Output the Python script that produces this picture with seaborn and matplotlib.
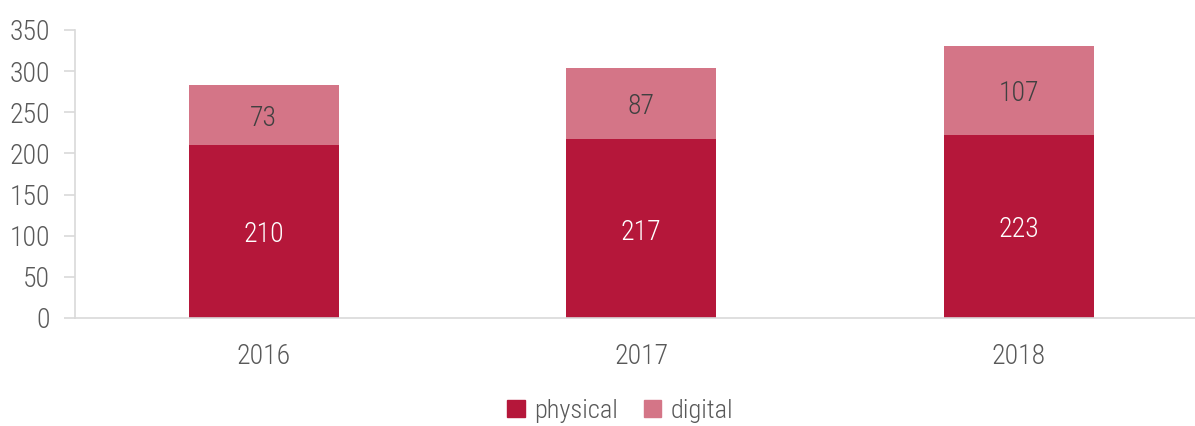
import pandas as pd
import matplotlib
matplotlib.use("Agg")
import matplotlib.pyplot as plt
import seaborn as sns
from matplotlib.patches import Patch
from matplotlib import font_manager

years = ['2016', '2017', '2018']
physical = [210, 217, 223]
digital = [73, 87, 107]

c_phys = '#B5173A'
c_dig = '#D47587'
grey = '#595959'

sns.set_theme(style='white')
names = {f.name for f in font_manager.fontManager.ttflist}
fams = [n for n in ['Roboto Condensed', 'Roboto'] if n in names] + ['DejaVu Sans']
plt.rcParams['font.family'] = fams
plt.rcParams['font.weight'] = 'light'

df = pd.DataFrame({'year': years, 'physical': physical, 'digital': digital})
df['total'] = df['physical'] + df['digital']

fig = plt.figure(figsize=(11.95, 4.26), dpi=100)
ax = fig.add_axes([75 / 1195, 1 - 318 / 426, 1 - 75 / 1195, 288 / 426])

# total first (digital colour), physical drawn over it
sns.barplot(data=df, x='year', y='total', color=c_dig, saturation=1, width=0.397,
            linewidth=0, ax=ax)
sns.barplot(data=df, x='year', y='physical', color=c_phys, saturation=1, width=0.397,
            linewidth=0, ax=ax)

for i, row in df.iterrows():
    ax.text(i, row['physical'] / 2 - 4, str(row['physical']), ha='center', va='center',
            color='white', fontsize=20)
    ax.text(i, row['physical'] + row['digital'] / 2 - 4, str(row['digital']), ha='center',
            va='center', color='#404040', fontsize=20)

ax.set_ylim(0, 350)
ax.set_xlim(-0.5, 2.467)
ax.set_yticks(range(0, 351, 50))
ax.set_xlabel('')
ax.set_ylabel('')

for s in ['top', 'right']:
    ax.spines[s].set_visible(False)
for s in ['left', 'bottom']:
    ax.spines[s].set_color('#D9D9D9')
    ax.spines[s].set_linewidth(1.2)

ax.tick_params(axis='y', left=True, length=8, width=1.2, color='#D9D9D9',
               labelsize=20, labelcolor=grey, pad=10)
ax.tick_params(axis='x', bottom=False, labelsize=20, labelcolor=grey, pad=12)

handles = [Patch(color=c_phys, label='physical'), Patch(color=c_dig, label='digital')]
fig.legend(handles=handles, loc='lower center', bbox_to_anchor=(0.519, -0.048), ncol=2,
           frameon=False, fontsize=19, labelcolor=grey, handlelength=0.65,
           handleheight=0.65, handletextpad=0.35, columnspacing=1.0)

fig.savefig('out.png', dpi=100)
